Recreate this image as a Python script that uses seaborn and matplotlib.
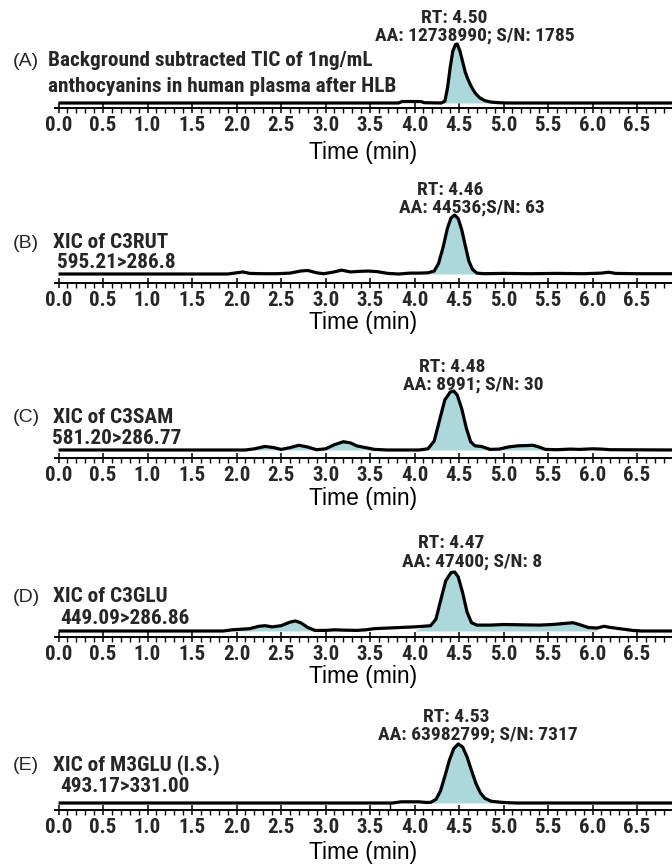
import matplotlib
matplotlib.use("Agg")
import matplotlib.pyplot as plt
import matplotlib.transforms as mtransforms
from matplotlib import font_manager
from matplotlib.ticker import MultipleLocator, FormatStrFormatter
import seaborn as sns

# ---- data (time in min, intensity in % of main peak) ----
panel_tags = ["(A)", "(B)", "(C)", "(D)", "(E)"]
panel_line1 = ["Background subtracted TIC of 1ng/mL", "XIC of C3RUT", "XIC of C3SAM",
               "XIC of C3GLU", "XIC of M3GLU (I.S.)"]
panel_line2 = ["anthocyanins in human plasma after HLB", "595.21>286.8", "581.20>286.77",
               "449.09>286.86", "493.17>331.00"]
rt_labels = ["RT: 4.50", "RT: 4.46", "RT: 4.48", "RT: 4.47", "RT: 4.53"]
aa_labels = ["AA: 12738990; S/N: 1785", "AA: 44536;S/N: 63", "AA: 8991; S/N: 30",
             "AA: 47400; S/N: 8", "AA: 63982799; S/N: 7317"]
rt_values = [4.50, 4.46, 4.48, 4.47, 4.53]

time_a = [0.0, 3.82, 3.86, 4.07, 4.11, 4.30, 4.34, 4.37, 4.40, 4.43, 4.46, 4.48, 4.51, 4.54,
          4.57, 4.60, 4.64, 4.68, 4.73, 4.79, 4.86, 4.95, 5.05, 6.95]
int_a = [0, 0, 2.5, 2.5, 0.5, 0, 3, 25, 60, 88, 99, 100, 88, 70,
         52, 40, 27, 17, 9, 4, 1.5, 0.5, 0, 0]

time_b = [0.0, 1.90, 2.00, 2.07, 2.15, 2.30, 2.45, 2.60, 2.72, 2.80, 2.90, 2.98, 3.08, 3.18,
          3.28, 3.38, 3.48, 3.58, 3.70, 3.82, 3.95, 4.05, 4.15, 4.22, 4.27, 4.32, 4.37, 4.41,
          4.45, 4.49, 4.53, 4.57, 4.61, 4.65, 4.70, 4.78, 5.00, 5.30, 5.60, 5.90, 6.10, 6.18,
          6.26, 6.50, 6.95]
int_b = [0, 0, 2, 3.5, 1, 0.5, 0.5, 1.5, 5, 6, 2, 0.5, 3, 6.5,
         3.5, 4.5, 5, 4, 1, 0, 1.5, 1.5, 2, 5, 18, 45, 78, 95,
         100, 94, 75, 48, 22, 8, 1.5, 0.5, 1, 0.5, 1, 0.5, 1.5, 3,
         1, 0.5, 0.5]

time_c = [0.0, 2.10, 2.20, 2.32, 2.42, 2.50, 2.60, 2.70, 2.80, 2.90, 3.00, 3.10, 3.20, 3.28,
          3.35, 3.45, 3.55, 3.70, 4.05, 4.15, 4.22, 4.28, 4.34, 4.40, 4.44, 4.48, 4.53, 4.58,
          4.63, 4.68, 4.75, 4.85, 4.95, 5.05, 5.15, 5.25, 5.33, 5.40, 5.47, 5.60, 5.75, 5.85,
          6.00, 6.10, 6.20, 6.95]
int_c = [0, 0, 2, 6, 4, 1, 4, 8, 5, 0.5, 2, 9, 14, 12,
         7, 4, 1, 0, 0, 2, 15, 50, 85, 98, 100, 93, 70, 38,
         14, 7, 6, 1, 1.5, 5, 7, 7.5, 8, 5, 1, 0.5, 1.5, 1,
         2, 1.5, 0.5, 0]

time_d = [0.0, 1.85, 1.95, 2.05, 2.15, 2.25, 2.32, 2.40, 2.50, 2.60, 2.66, 2.72, 2.80, 2.88,
          3.00, 3.10, 3.20, 3.35, 3.45, 3.55, 3.70, 3.85, 4.00, 4.10, 4.18, 4.24, 4.29, 4.35,
          4.41, 4.45, 4.49, 4.54, 4.59, 4.64, 4.70, 4.85, 5.00, 5.20, 5.40, 5.55, 5.70, 5.78,
          5.85, 5.95, 6.05, 6.13, 6.20, 6.30, 6.45, 6.55, 6.95]
int_d = [0, 0, 2, 3, 4, 8, 9, 7, 9, 15, 17, 14, 6, 1,
         1, 2, 1.5, 1, 2, 4, 5, 6, 7, 8, 9, 20, 50, 85,
         99, 100, 92, 65, 32, 14, 10, 10, 11, 10.5, 10, 11, 13, 14,
         11, 6, 5, 8, 6, 4, 1, 0, 0]

time_e = [0.0, 3.75, 3.85, 4.05, 4.12, 4.18, 4.24, 4.29, 4.34, 4.39, 4.44, 4.49, 4.54, 4.59,
          4.64, 4.69, 4.74, 4.79, 4.86, 4.95, 5.05, 5.15, 6.95]
int_e = [0, 0, 2, 2, 1, 1, 6, 20, 45, 72, 92, 100, 95, 78,
         55, 33, 17, 8, 3, 1.5, 0.5, 0, 0]

# shaded (integrated) windows, min
fill_windows = [[(4.30, 5.05)],
                [(4.22, 4.70)],
                [(2.10, 3.70), (4.05, 4.85), (4.95, 5.47)],
                [(1.85, 2.88), (4.10, 6.05)],
                [(4.18, 5.15)]]
marker_e = 3.72  # small vertical integration marker in panel E

traces = [(time_a, int_a), (time_b, int_b), (time_c, int_c), (time_d, int_d), (time_e, int_e)]

# ---- layout in pixels ----
W, H = 672, 866
X0_PX = 55
PX_PER_MIN = 89.0
AX_H = 100
PEAK_PX = 59
axis_y = [108, 283, 458, 637, 810]
base_gap = [5, 9, 8, 6, 7]
line1_y = [61, 243, 418, 597, 765]
line2_y = [86, 263, 438, 618, 786]
line1_x = [48, 53, 53, 53, 53]
line2_x = [48, 57, 52, 60, 60]
rt_y = [18, 190, 367, 543, 717]
aa_y = [36, 208, 385, 562, 735]
time_y = [152, 322, 498, 677, 853]

FILL = "#acd8dc"

sns.set_theme(style="white")
available = {f.name for f in font_manager.fontManager.ttflist}
narrow = next((n for n in ["Liberation Sans Narrow", "Roboto Condensed", "Open Sans Condensed",
                           "Arial Narrow"] if n in available), None)
if narrow is None:
    bold_font = dict(family=["Roboto", "DejaVu Sans"], weight="bold", stretch="condensed")
    bscale = 0.82
else:
    bold_font = dict(family=[narrow, "DejaVu Sans"], weight="bold")
    bscale = 1.0
plt.rcParams["font.family"] = ["Liberation Sans", "DejaVu Sans"]


def fx(px):
    return px / W


def fy(py):
    return 1 - py / H


fig = plt.figure(figsize=(W / 100, H / 100), dpi=100)
xmax = (W - X0_PX) / PX_PER_MIN - 0.04

for i, (t, y) in enumerate(traces):
    ax = fig.add_axes([fx(X0_PX), fy(axis_y[i]), 1 - fx(X0_PX), AX_H / H])
    d = base_gap[i]
    ax.set_ylim(-d * 100 / PEAK_PX, (AX_H - d) * 100 / PEAK_PX)
    ax.set_xlim(-0.04, xmax)

    for lo, hi in fill_windows[i]:
        sel = [(tt >= lo) and (tt <= hi) for tt in t]
        ax.fill_between(t, 0, y, where=sel, color=FILL, lw=0, interpolate=True)
    sns.lineplot(x=t, y=y, ax=ax, color="black", lw=2.3, sort=False,
                 solid_joinstyle="round", solid_capstyle="butt")
    if i == 4:
        ax.plot([marker_e, marker_e], [ax.get_ylim()[0], 0], color="black", lw=1.0)

    for s in ["top", "left", "right"]:
        ax.spines[s].set_visible(False)
    ax.spines["bottom"].set_linewidth(1.4)
    ax.spines["bottom"].set_color("black")
    ax.set_yticks([])
    ax.xaxis.set_major_locator(MultipleLocator(0.5))
    ax.xaxis.set_minor_locator(MultipleLocator(0.1))
    ax.xaxis.set_major_formatter(FormatStrFormatter("%.1f"))
    ax.tick_params(axis="x", which="major", direction="inout", length=7, width=1.1,
                   color="black", pad=2, bottom=True)
    ax.tick_params(axis="x", which="minor", direction="out", length=3.5, width=1.0,
                   color="black", bottom=True)
    for lab in ax.get_xticklabels():
        lab.set_fontproperties(font_manager.FontProperties(**bold_font, size=15 * bscale))
    ax.set_xlabel("Time (min)", fontsize=16.5, color="black")
    ax.xaxis.set_label_coords(0.5, -(time_y[i] - axis_y[i]) / AX_H)
    ax.xaxis.label.set_verticalalignment("center")
    ax.patch.set_alpha(0)

    blend = mtransforms.blended_transform_factory(ax.transData, fig.transFigure)
    ax.text(rt_values[i] - 0.06, fy(rt_y[i]), rt_labels[i], transform=blend, ha="center",
            va="center", size=14 * bscale, **bold_font)
    ax.text(rt_values[i] + 0.18, fy(aa_y[i]), aa_labels[i], transform=blend, ha="center",
            va="center", size=14 * bscale, **bold_font)

    fig.text(fx(13), fy(line1_y[i]), panel_tags[i], ha="left", va="center", size=14)
    fig.text(fx(line1_x[i]), fy(line1_y[i]), panel_line1[i], ha="left", va="center",
             size=15.3 * bscale, **bold_font)
    fig.text(fx(line2_x[i]), fy(line2_y[i]), panel_line2[i], ha="left", va="center",
             size=15.3 * bscale, **bold_font)

fig.savefig("out.png", dpi=100)
plt.close(fig)
